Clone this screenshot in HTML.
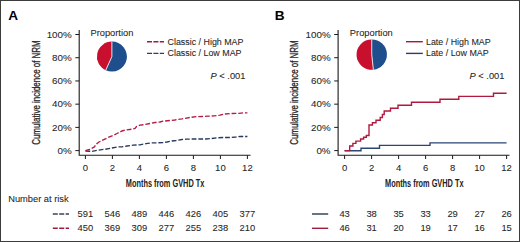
<!DOCTYPE html>
<html><head><meta charset="utf-8"><style>
html,body{margin:0;padding:0;background:#fff;}
svg{display:block;font-family:"Liberation Sans",sans-serif;}
.t{stroke:#2a2a2a;stroke-width:0.08px;}
</style></head><body>
<svg width="520" height="242" viewBox="0 0 520 242">
<rect x="0" y="0" width="520" height="242" fill="#fff"/>
<text x="8.2" y="20" font-size="13.6" font-weight="bold" fill="#000">A</text>
<text transform="translate(39.6,92.6) rotate(-90)" text-anchor="middle" font-size="11.2" fill="#262626" stroke="#262626" stroke-width="0.3" textLength="104.5" lengthAdjust="spacingAndGlyphs">Cumulative incidence of NRM</text>
<path d="M79.2,30 V155.3 H250.5" fill="none" stroke="#1a1a1a" stroke-width="1.1"/>
<path d="M75.3,150.60 H79.2" stroke="#1a1a1a" stroke-width="1"/>
<text x="71.7" y="153.90" text-anchor="end" font-size="9.8" class="t" fill="#262626">0%</text>
<path d="M75.3,127.38 H79.2" stroke="#1a1a1a" stroke-width="1"/>
<text x="71.7" y="130.68" text-anchor="end" font-size="9.8" class="t" fill="#262626">20%</text>
<path d="M75.3,104.16 H79.2" stroke="#1a1a1a" stroke-width="1"/>
<text x="71.7" y="107.46" text-anchor="end" font-size="9.8" class="t" fill="#262626">40%</text>
<path d="M75.3,80.94 H79.2" stroke="#1a1a1a" stroke-width="1"/>
<text x="71.7" y="84.24" text-anchor="end" font-size="9.8" class="t" fill="#262626">60%</text>
<path d="M75.3,57.72 H79.2" stroke="#1a1a1a" stroke-width="1"/>
<text x="71.7" y="61.02" text-anchor="end" font-size="9.8" class="t" fill="#262626">80%</text>
<path d="M75.3,34.50 H79.2" stroke="#1a1a1a" stroke-width="1"/>
<text x="71.7" y="37.80" text-anchor="end" font-size="9.8" class="t" fill="#262626">100%</text>
<path d="M85.40,155.3 V159" stroke="#1a1a1a" stroke-width="1"/>
<text x="85.40" y="171.4" text-anchor="middle" font-size="9.5" class="t" fill="#262626">0</text>
<path d="M112.40,155.3 V159" stroke="#1a1a1a" stroke-width="1"/>
<text x="112.40" y="171.4" text-anchor="middle" font-size="9.5" class="t" fill="#262626">2</text>
<path d="M139.40,155.3 V159" stroke="#1a1a1a" stroke-width="1"/>
<text x="139.40" y="171.4" text-anchor="middle" font-size="9.5" class="t" fill="#262626">4</text>
<path d="M166.40,155.3 V159" stroke="#1a1a1a" stroke-width="1"/>
<text x="166.40" y="171.4" text-anchor="middle" font-size="9.5" class="t" fill="#262626">6</text>
<path d="M193.40,155.3 V159" stroke="#1a1a1a" stroke-width="1"/>
<text x="193.40" y="171.4" text-anchor="middle" font-size="9.5" class="t" fill="#262626">8</text>
<path d="M220.40,155.3 V159" stroke="#1a1a1a" stroke-width="1"/>
<text x="220.40" y="171.4" text-anchor="middle" font-size="9.5" class="t" fill="#262626">10</text>
<path d="M247.40,155.3 V159" stroke="#1a1a1a" stroke-width="1"/>
<text x="247.40" y="171.4" text-anchor="middle" font-size="9.5" class="t" fill="#262626">12</text>
<text x="165.10" y="187.3" text-anchor="middle" font-size="11" font-weight="bold" fill="#222" textLength="78.5" lengthAdjust="spacingAndGlyphs">Months from GVHD Tx</text>
<text x="111.9" y="36.1" text-anchor="middle" font-size="9.3" class="t" fill="#262626">Proportion</text>
<path d="M111.9,56.6 L111.9,41.6 A15,15 0 0 0 105.71,70.26 Z" fill="#c8102e"/>
<path d="M111.9,56.6 L111.9,41.6 A15,15 0 1 1 105.71,70.26 Z" fill="#1f4e8c"/>
<path d="M111.9,41.6 L111.9,56.6 L105.71,70.26" fill="none" stroke="#fbe8ec" stroke-width="0.9"/>
<path d="M147,41.7 H164" stroke="#a01c3c" stroke-width="1.4" stroke-dasharray="5 1.4"/>
<path d="M147,53.4 H164" stroke="#2c3e66" stroke-width="1.4" stroke-dasharray="5 1.4"/>
<text x="167.5" y="44.6" font-size="8.9" class="t" fill="#262626">Classic / High MAP</text>
<text x="167.5" y="56.2" font-size="8.9" class="t" fill="#262626">Classic / Low MAP</text>
<text x="210.5" y="79.3" font-size="9.3" class="t" fill="#262626"><tspan font-style="italic">P</tspan> &lt; .001</text>
<polyline points="85.4,151.1 92.0,151.3 98.0,150.1 105.0,149.3 112.0,148.0 117.0,147.0 122.0,146.8 127.0,146.0 133.0,145.2 140.0,144.8 146.0,143.7 150.0,143.0 157.0,142.8 163.0,142.5 167.0,142.0 172.0,141.0 176.0,140.5 182.0,139.5 186.0,139.2 192.0,139.0 206.0,139.0 212.0,138.5 217.0,137.8 223.0,137.5 230.0,137.5 236.0,137.0 240.0,136.5 247.4,136.5" fill="none" stroke="#2a3a5e" stroke-width="1.3" stroke-dasharray="4.8 1.9"/>
<polyline points="85.4,150.6 89.5,149.5 94.0,147.2 95.5,145.5 97.0,143.5 99.0,142.0 102.0,140.5 108.0,137.5 112.0,136.0 117.0,133.5 122.0,131.0 125.0,130.0 132.0,129.2 135.0,128.5 136.5,126.5 140.0,125.2 145.0,124.5 150.0,123.5 155.0,122.5 160.0,122.0 163.0,121.2 170.0,120.5 175.0,120.0 177.0,119.5 182.0,118.8 185.0,118.3 190.0,117.5 196.0,116.7 202.0,116.5 208.0,116.2 214.0,115.8 220.0,115.2 225.0,114.0 232.0,113.5 239.0,113.3 244.0,112.8 247.4,112.8" fill="none" stroke="#b31c43" stroke-width="1.35" stroke-dasharray="4.8 1.9"/>
<path d="M52.80,214 H69.00" stroke="#37435f" stroke-width="1.5" stroke-dasharray="5 1.4"/>
<path d="M52.80,228.3 H69.00" stroke="#a01c3c" stroke-width="1.4" stroke-dasharray="5 1.4"/>
<text x="85.40" y="217.1" text-anchor="middle" font-size="9.4" class="t" fill="#262626">591</text>
<text x="85.40" y="231.2" text-anchor="middle" font-size="9.4" class="t" fill="#262626">450</text>
<text x="112.40" y="217.1" text-anchor="middle" font-size="9.4" class="t" fill="#262626">546</text>
<text x="112.40" y="231.2" text-anchor="middle" font-size="9.4" class="t" fill="#262626">369</text>
<text x="139.40" y="217.1" text-anchor="middle" font-size="9.4" class="t" fill="#262626">489</text>
<text x="139.40" y="231.2" text-anchor="middle" font-size="9.4" class="t" fill="#262626">309</text>
<text x="166.40" y="217.1" text-anchor="middle" font-size="9.4" class="t" fill="#262626">446</text>
<text x="166.40" y="231.2" text-anchor="middle" font-size="9.4" class="t" fill="#262626">277</text>
<text x="193.40" y="217.1" text-anchor="middle" font-size="9.4" class="t" fill="#262626">426</text>
<text x="193.40" y="231.2" text-anchor="middle" font-size="9.4" class="t" fill="#262626">255</text>
<text x="220.40" y="217.1" text-anchor="middle" font-size="9.4" class="t" fill="#262626">405</text>
<text x="220.40" y="231.2" text-anchor="middle" font-size="9.4" class="t" fill="#262626">238</text>
<text x="247.40" y="217.1" text-anchor="middle" font-size="9.4" class="t" fill="#262626">377</text>
<text x="247.40" y="231.2" text-anchor="middle" font-size="9.4" class="t" fill="#262626">210</text>
<text x="274.8" y="20" font-size="13.6" font-weight="bold" fill="#000">B</text>
<text transform="translate(297.7,92.6) rotate(-90)" text-anchor="middle" font-size="11.2" fill="#262626" stroke="#262626" stroke-width="0.3" textLength="104.5" lengthAdjust="spacingAndGlyphs">Cumulative incidence of NRM</text>
<path d="M338.1,30 V155.3 H509.5" fill="none" stroke="#1a1a1a" stroke-width="1.1"/>
<path d="M334.20000000000005,150.60 H338.1" stroke="#1a1a1a" stroke-width="1"/>
<text x="330.6" y="153.90" text-anchor="end" font-size="9.8" class="t" fill="#262626">0%</text>
<path d="M334.20000000000005,127.38 H338.1" stroke="#1a1a1a" stroke-width="1"/>
<text x="330.6" y="130.68" text-anchor="end" font-size="9.8" class="t" fill="#262626">20%</text>
<path d="M334.20000000000005,104.16 H338.1" stroke="#1a1a1a" stroke-width="1"/>
<text x="330.6" y="107.46" text-anchor="end" font-size="9.8" class="t" fill="#262626">40%</text>
<path d="M334.20000000000005,80.94 H338.1" stroke="#1a1a1a" stroke-width="1"/>
<text x="330.6" y="84.24" text-anchor="end" font-size="9.8" class="t" fill="#262626">60%</text>
<path d="M334.20000000000005,57.72 H338.1" stroke="#1a1a1a" stroke-width="1"/>
<text x="330.6" y="61.02" text-anchor="end" font-size="9.8" class="t" fill="#262626">80%</text>
<path d="M334.20000000000005,34.50 H338.1" stroke="#1a1a1a" stroke-width="1"/>
<text x="330.6" y="37.80" text-anchor="end" font-size="9.8" class="t" fill="#262626">100%</text>
<path d="M344.60,155.3 V159" stroke="#1a1a1a" stroke-width="1"/>
<text x="344.60" y="171.4" text-anchor="middle" font-size="9.5" class="t" fill="#262626">0</text>
<path d="M371.60,155.3 V159" stroke="#1a1a1a" stroke-width="1"/>
<text x="371.60" y="171.4" text-anchor="middle" font-size="9.5" class="t" fill="#262626">2</text>
<path d="M398.60,155.3 V159" stroke="#1a1a1a" stroke-width="1"/>
<text x="398.60" y="171.4" text-anchor="middle" font-size="9.5" class="t" fill="#262626">4</text>
<path d="M425.60,155.3 V159" stroke="#1a1a1a" stroke-width="1"/>
<text x="425.60" y="171.4" text-anchor="middle" font-size="9.5" class="t" fill="#262626">6</text>
<path d="M452.60,155.3 V159" stroke="#1a1a1a" stroke-width="1"/>
<text x="452.60" y="171.4" text-anchor="middle" font-size="9.5" class="t" fill="#262626">8</text>
<path d="M479.60,155.3 V159" stroke="#1a1a1a" stroke-width="1"/>
<text x="479.60" y="171.4" text-anchor="middle" font-size="9.5" class="t" fill="#262626">10</text>
<path d="M506.60,155.3 V159" stroke="#1a1a1a" stroke-width="1"/>
<text x="506.60" y="171.4" text-anchor="middle" font-size="9.5" class="t" fill="#262626">12</text>
<text x="424.30" y="187.3" text-anchor="middle" font-size="11" font-weight="bold" fill="#222" textLength="78.5" lengthAdjust="spacingAndGlyphs">Months from GVHD Tx</text>
<text x="371.3" y="35.7" text-anchor="middle" font-size="9.3" class="t" fill="#262626">Proportion</text>
<path d="M371.75,54.6 L371.75,39.400000000000006 A15.2,15.2 0 1 0 373.36,69.71 Z" fill="#c8102e"/>
<path d="M371.75,54.6 L371.75,39.400000000000006 A15.2,15.2 0 0 1 373.36,69.71 Z" fill="#1f4e8c"/>
<path d="M371.75,39.400000000000006 L371.75,54.6 L373.36,69.71" fill="none" stroke="#fbe8ec" stroke-width="0.9"/>
<path d="M406,41.7 H422.8" stroke="#a01c3c" stroke-width="1.4"/>
<path d="M406,53.4 H422.8" stroke="#2c3e66" stroke-width="1.4"/>
<text x="426" y="44.6" font-size="8.9" class="t" fill="#262626">Late / High MAP</text>
<text x="426" y="56.2" font-size="8.9" class="t" fill="#262626">Late / Low MAP</text>
<text x="469.5" y="79.3" font-size="9.3" class="t" fill="#262626"><tspan font-style="italic">P</tspan> &lt; .001</text>
<path d="M344.6,150.8 H361 V148.3 H379.5 V145.4 H430 V142.9 H506.6" fill="none" stroke="#2b4676" stroke-width="1.4"/>
<path d="M344.6,150.6 H349.7 V146 H352.9 V143.4 H355.9 V141.1 H360.6 V139 H363.6 V137.2 H366.3 V135.5 H369 V125 H372.4 V122.8 H376 V120.3 H380.2 V117.5 H382.4 V114.5 H384.2 V111 H390.5 V108.2 H398 V105.2 H411.5 V102.2 H440 V99.2 H458.8 V96.4 H493.5 V93.2 H506.6" fill="none" stroke="#b01a3e" stroke-width="1.4"/>
<path d="M312.00,214 H328.20" stroke="#37435f" stroke-width="1.5"/>
<path d="M312.00,228.3 H328.20" stroke="#a01c3c" stroke-width="1.4"/>
<text x="344.60" y="217.1" text-anchor="middle" font-size="9.4" class="t" fill="#262626">43</text>
<text x="344.60" y="231.2" text-anchor="middle" font-size="9.4" class="t" fill="#262626">46</text>
<text x="371.60" y="217.1" text-anchor="middle" font-size="9.4" class="t" fill="#262626">38</text>
<text x="371.60" y="231.2" text-anchor="middle" font-size="9.4" class="t" fill="#262626">31</text>
<text x="398.60" y="217.1" text-anchor="middle" font-size="9.4" class="t" fill="#262626">35</text>
<text x="398.60" y="231.2" text-anchor="middle" font-size="9.4" class="t" fill="#262626">20</text>
<text x="425.60" y="217.1" text-anchor="middle" font-size="9.4" class="t" fill="#262626">33</text>
<text x="425.60" y="231.2" text-anchor="middle" font-size="9.4" class="t" fill="#262626">19</text>
<text x="452.60" y="217.1" text-anchor="middle" font-size="9.4" class="t" fill="#262626">29</text>
<text x="452.60" y="231.2" text-anchor="middle" font-size="9.4" class="t" fill="#262626">17</text>
<text x="479.60" y="217.1" text-anchor="middle" font-size="9.4" class="t" fill="#262626">27</text>
<text x="479.60" y="231.2" text-anchor="middle" font-size="9.4" class="t" fill="#262626">16</text>
<text x="506.60" y="217.1" text-anchor="middle" font-size="9.4" class="t" fill="#262626">26</text>
<text x="506.60" y="231.2" text-anchor="middle" font-size="9.4" class="t" fill="#262626">15</text>
<text x="8.2" y="202.4" font-size="9.3" class="t" fill="#262626">Number at risk</text>
<rect x="0.5" y="0.5" width="519" height="241" fill="none" stroke="#3c3c3c" stroke-width="1"/>
</svg>
</body></html>
